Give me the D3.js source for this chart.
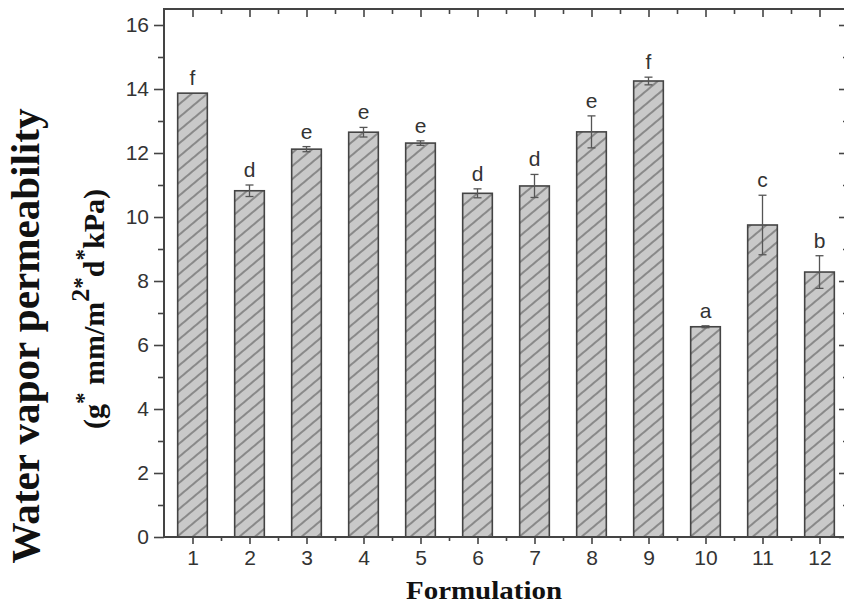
<!DOCTYPE html>
<meta charset="utf-8">
<script src="https://cdnjs.cloudflare.com/ajax/libs/d3/7.8.5/d3.min.js"></script>
<style>
body { margin: 0; background: #fff; }
</style>
<body>
<script>

// data
var formulations = [1, 2, 3, 4, 5, 6, 7, 8, 9, 10, 11, 12];
var wvp = [13.87, 10.82, 12.12, 12.65, 12.31, 10.74, 10.97, 12.66, 14.25, 6.57, 9.75, 8.28];
var sd = [0, 0.18, 0.08, 0.15, 0.07, 0.14, 0.36, 0.5, 0.12, 0.03, 0.93, 0.51];
var groups = ["f", "d", "e", "e", "e", "d", "d", "e", "f", "a", "c", "b"];
var yTicks = [0, 2, 4, 6, 8, 10, 12, 14, 16];

var W = 844, H = 604;
var margin = {top: 9, right: -4, bottom: 67, left: 164};

var svg = d3.select("body").append("svg")
    .attr("width", W)
    .attr("height", H);

var x = d3.scaleLinear()
  .domain([0.5, 12.5])
  .range([margin.left, W - margin.right]);

var y = d3.scaleLinear()
  .domain([0, 16.5])
  .range([H - margin.bottom, margin.top]);

// hatch
var defs = svg.append("defs");
var pat = defs.append("pattern")
  .attr("id", "hatch")
  .attr("patternUnits", "userSpaceOnUse")
  .attr("width", 10).attr("height", 10)
  .attr("patternTransform", "rotate(-40)");
pat.append("rect").attr("width", 10).attr("height", 10).attr("fill", "#c9c9c9");
pat.append("line")
  .attr("x1", 0).attr("y1", 5).attr("x2", 10).attr("y2", 5)
  .attr("stroke", "#555").attr("stroke-width", 1.1);

var data = formulations.map(function(f, i) {
  return {f: f, v: wvp[i], e: sd[i], g: groups[i]};
});

// bar width about half a category
var bw = x(1.02) - x(0.5);

svg.selectAll(".bar").data(data).enter().append("rect")
  .attr("class", "bar")
  .attr("x", function(d) { return x(d.f) - bw / 2; })
  .attr("y", function(d) { return y(d.v); })
  .attr("width", bw)
  .attr("height", function(d) { return y(0) - y(d.v); })
  .attr("fill", "url(#hatch)")
  .attr("stroke", "#444")
  .attr("stroke-width", 1.6);

// error bars
var eb = svg.selectAll(".err").data(data.filter(function(d) { return d.e > 0; }))
  .enter().append("g").attr("class", "err")
  .attr("stroke", "#555").attr("stroke-width", 1.3);
eb.append("line")
  .attr("x1", function(d) { return x(d.f); })
  .attr("x2", function(d) { return x(d.f); })
  .attr("y1", function(d) { return y(d.v - d.e); })
  .attr("y2", function(d) { return y(d.v + d.e); });
eb.append("line")
  .attr("x1", function(d) { return x(d.f) - 4; })
  .attr("x2", function(d) { return x(d.f) + 4; })
  .attr("y1", function(d) { return y(d.v + d.e); })
  .attr("y2", function(d) { return y(d.v + d.e); });
eb.append("line")
  .attr("x1", function(d) { return x(d.f) - 4; })
  .attr("x2", function(d) { return x(d.f) + 4; })
  .attr("y1", function(d) { return y(d.v - d.e); })
  .attr("y2", function(d) { return y(d.v - d.e); });

// significance letters
svg.selectAll(".grp").data(data).enter().append("text")
  .attr("class", "grp")
  .attr("x", function(d) { return x(d.f); })
  .attr("y", function(d) { return y(d.v + d.e) - 8; })
  .attr("text-anchor", "middle")
  .style("font-family", "'Liberation Sans', Arial, sans-serif")
  .style("font-size", "21px")
  .style("fill", "#333")
  .text(function(d) { return d.g; });

// axes
var halfTicks = d3.range(1, 12.6, 0.5).filter(function(t) { return t % 1 != 0; });
var minorY = d3.range(1, 16, 2);

function styleAxis(g) {
  g.select(".domain").remove();
  g.selectAll("line").attr("stroke", "#444").attr("stroke-width", 1.6);
  g.selectAll("text")
    .style("font-family", "'Liberation Sans', Arial, sans-serif")
    .style("font-size", "21px")
    .style("fill", "#333");
}

// bottom
svg.append("g")
  .attr("transform", "translate(0," + y(0) + ")")
  .call(d3.axisBottom(x).tickValues(formulations).tickFormat(d3.format("d")).tickSize(7).tickPadding(6))
  .call(styleAxis);
svg.append("g")
  .attr("transform", "translate(0," + y(0) + ")")
  .call(d3.axisBottom(x).tickValues(halfTicks).tickFormat("").tickSize(4))
  .call(styleAxis);

// top (inward)
svg.append("g")
  .attr("transform", "translate(0," + margin.top + ")")
  .call(d3.axisBottom(x).tickValues(formulations).tickFormat("").tickSize(8))
  .call(styleAxis);
svg.append("g")
  .attr("transform", "translate(0," + margin.top + ")")
  .call(d3.axisBottom(x).tickValues(halfTicks).tickFormat("").tickSize(5))
  .call(styleAxis);

// left
svg.append("g")
  .attr("transform", "translate(" + margin.left + ",0)")
  .call(d3.axisLeft(y).tickValues(yTicks).tickSize(10).tickPadding(5))
  .call(styleAxis);
svg.append("g")
  .attr("transform", "translate(" + margin.left + ",0)")
  .call(d3.axisLeft(y).tickValues(minorY).tickFormat("").tickSize(6))
  .call(styleAxis);

// right (inward)
svg.append("g")
  .attr("transform", "translate(" + (W - margin.right) + ",0)")
  .call(d3.axisLeft(y).tickValues(yTicks).tickFormat("").tickSize(9))
  .call(styleAxis);
svg.append("g")
  .attr("transform", "translate(" + (W - margin.right) + ",0)")
  .call(d3.axisLeft(y).tickValues(minorY).tickFormat("").tickSize(5))
  .call(styleAxis);

// frame
svg.append("rect")
  .attr("x", margin.left).attr("y", margin.top)
  .attr("width", x.range()[1] - margin.left)
  .attr("height", y(0) - margin.top)
  .attr("fill", "none")
  .attr("stroke", "#444")
  .attr("stroke-width", 2);

// titles
svg.append("text")
  .attr("x", 484).attr("y", 599)
  .attr("text-anchor", "middle")
  .attr("textLength", 156)
  .attr("lengthAdjust", "spacingAndGlyphs")
  .style("font-family", "'Liberation Serif', 'Times New Roman', serif")
  .style("font-weight", "bold")
  .style("font-size", "25px")
  .style("fill", "#111")
  .text("Formulation");

svg.append("text")
  .attr("transform", "translate(39,336) rotate(-90)")
  .attr("text-anchor", "middle")
  .attr("textLength", 455)
  .attr("lengthAdjust", "spacingAndGlyphs")
  .style("font-family", "'Liberation Serif', 'Times New Roman', serif")
  .style("font-weight", "bold")
  .style("font-size", "39px")
  .style("fill", "#111")
  .text("Water vapor permeability");

var sub = svg.append("text")
  .attr("transform", "translate(104,309) rotate(-90)")
  .attr("text-anchor", "middle")
  .style("font-family", "'Liberation Serif', 'Times New Roman', serif")
  .style("font-weight", "bold")
  .style("font-size", "30px")
  .style("fill", "#111");
sub.append("tspan").text("(g");
sub.append("tspan").attr("dy", -13).style("font-size", "23px").text("*");
sub.append("tspan").attr("dy", 13).text(" mm/m");
sub.append("tspan").attr("dy", -15).style("font-size", "26px").text("2");
sub.append("tspan").style("font-size", "23px").text("*");
sub.append("tspan").attr("dy", 15).text("d");
sub.append("tspan").attr("dy", -13).style("font-size", "23px").text("*");
sub.append("tspan").attr("dy", 13).text("kPa)");

</script>
</body>
</html>
